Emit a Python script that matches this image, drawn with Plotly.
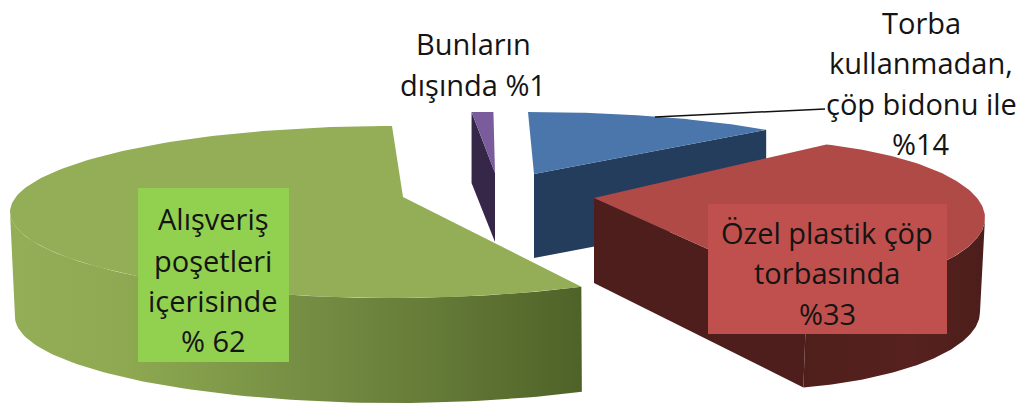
import numpy as np
import plotly.graph_objects as go

# --- data ---
slices = ["Alışveriş poşetleri içerisinde", "Özel plastik çöp torbasında",
          "Torba kullanmadan, çöp bidonu ile", "Bunların dışında"]
values = [62, 33, 14, 1]
green_lines = ["Alışveriş", "poşetleri", "içerisinde", "% 62"]
red_lines = ["Özel plastik çöp", "torbasında", "%33"]
blue_lines = ["Torba", "kullanmadan,", "çöp bidonu ile", "%14"]
purple_lines = ["Bunların", "dışında %1"]

# --- geometry / styling of the 3-D view ---
DEG_PER_PCT = 3.3
FONT = "Open Sans"
FS = 29


def arc(e, t0, t1, n=80):
    t = np.radians(np.linspace(t0, t1, n))
    return e[0] + e[2] * np.cos(t), e[1] - e[3] * np.sin(t)


fig = go.Figure()


def poly(x, y, color=None, grad=None, name=""):
    x = np.append(x, x[0])
    y = np.append(y, y[0])
    kw = dict(fillgradient=dict(type="horizontal", colorscale=grad)) if grad else dict(fillcolor=color)
    fig.add_trace(go.Scatter(x=x, y=y, mode="lines", fill="toself", line=dict(width=0),
                             hoverinfo="skip", showlegend=False, name=name, **kw))


# blue slice (14)
b_top = (528, 170, 330, 58)
b_end = 90 - values[2] * DEG_PER_PCT
b_apex = (534, 174)
bx, by = arc(b_top, b_end, 90)
ex, ey = bx[0], by[0]
poly([b_apex[0], ex, ex, b_apex[0]], [b_apex[1], ey, ey + 84, b_apex[1] + 84], "#243D5C", name=slices[2])
poly(np.r_[b_apex[0], bx], np.r_[b_apex[1], by], "#4A76AC", name=slices[2])

# purple slice (1)
p_top = (494, 172, 390, 60)
p_apex = (495, 173)
px, py = arc(p_top, 90, 90 + values[3] * DEG_PER_PCT)
poly([p_apex[0], px[-1], px[-1], p_apex[0]], [p_apex[1], py[-1], py[-1] + 71, p_apex[1] + 69],
     "#362748", name=slices[3])
poly(np.r_[p_apex[0], px], np.r_[p_apex[1], py], "#7A5C9C", name=slices[3])

# green slice (62)
g_top = (392, 212, 382, 86)
g_bot = (394, 317, 379, 86)
g_apex = (403, 197)
g_start = 90
g_end = g_start + values[0] * DEG_PER_PCT * 1.025
wx, wy = arc(g_top, 180, g_end)
vx, vy = arc(g_bot, g_end, 180)
poly(np.r_[wx, vx], np.r_[wy, vy], grad=[[0, "#93AE56"], [0.2, "#8EA951"], [0.5, "#768F44"],
                                         [0.75, "#647A37"], [1, "#4F6228"]], name=slices[0])
gx, gy = arc(g_top, g_start, g_end, 160)
poly(np.r_[g_apex[0], gx], np.r_[g_apex[1], gy], "#93AE56", name=slices[0])

# red slice (33)
r_top = (747, 218, 238, 78)
r_bot = (744, 312, 236, 78)
r_apex = (594, 198)
r_start = 70.5
r_end = r_start - values[1] * DEG_PER_PCT * 1.34
wx, wy = arc(r_top, r_end, 0)
vx, vy = arc(r_bot, 0, r_end)
poly(np.r_[wx, vx], np.r_[wy, vy], grad=[[0, "#4F1F1C"], [0.6, "#56211E"], [1, "#4C1E1B"]], name=slices[1])
ex, ey = wx[0], wy[0]
fx, fy = vx[-1], vy[-1]
poly([r_apex[0], ex, fx, r_apex[0]], [r_apex[1], ey, fy, r_apex[1] + 85], "#4D1E1C", name=slices[1])
rx_, ry_ = arc(r_top, r_start, r_end, 120)
poly(np.r_[r_apex[0], rx_], np.r_[r_apex[1], ry_], "#B04A47", name=slices[1])

# label boxes and leader
shapes = [
    dict(type="rect", x0=138, x1=289, y0=188, y1=362, fillcolor="#92D050", line=dict(width=0), layer="above"),
    dict(type="rect", x0=708, x1=947, y0=204, y1=334, fillcolor="#C0504D", line=dict(width=0), layer="above"),
    dict(type="line", x0=655, y0=117, x1=825, y1=109, line=dict(color="#111111", width=1.5), layer="above"),
]

annotations = []
for lines, xc, ys in [(green_lines, 213, [218, 260, 300, 340]),
                      (red_lines, 827, [232, 272, 313]),
                      (blue_lines, 921, [22, 62, 103, 143]),
                      (purple_lines, 473, [43, 84])]:
    for txt, yc in zip(lines, ys):
        annotations.append(dict(x=xc, y=yc, text=txt, showarrow=False, xanchor="center", yanchor="middle",
                                font=dict(family=FONT, size=FS, color="#141414")))

fig.update_layout(
    width=1024, height=405, margin=dict(l=0, r=0, t=0, b=0),
    paper_bgcolor="white", plot_bgcolor="white", showlegend=False,
    xaxis=dict(range=[0, 1024], visible=False, fixedrange=True),
    yaxis=dict(range=[405, 0], visible=False, fixedrange=True),
    shapes=shapes, annotations=annotations,
)
fig.write_html("out.html", config=dict(displayModeBar=False),
               post_script="document.body.style.margin='0';document.documentElement.style.overflow='hidden';")
